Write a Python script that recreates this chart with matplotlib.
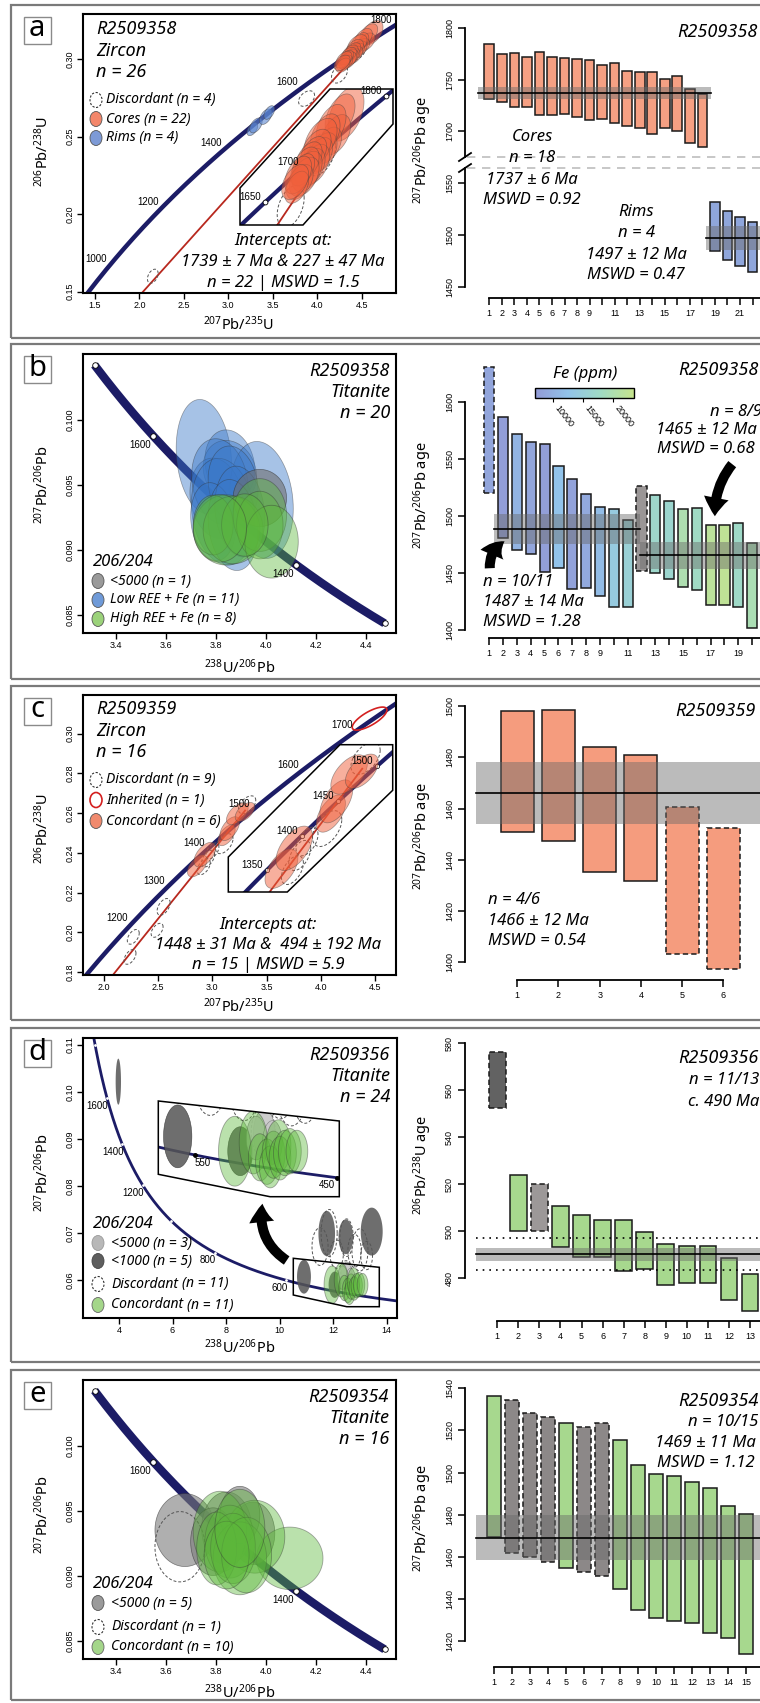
import numpy as np
import matplotlib
matplotlib.use("Agg")
import matplotlib.pyplot as plt
from matplotlib.patches import Polygon, Rectangle, Ellipse, FancyArrowPatch
from matplotlib.lines import Line2D
from matplotlib.colors import LinearSegmentedColormap, Normalize
from matplotlib.cm import ScalarMappable

plt.rcParams['font.family'] = ['Liberation Sans', 'DejaVu Sans']
plt.rcParams['mathtext.fontset'] = 'custom'
plt.rcParams['mathtext.rm'] = 'Noto Sans'
plt.rcParams['mathtext.it'] = 'Noto Sans:italic'
plt.rcParams['mathtext.bf'] = 'Noto Sans:bold'
ANN = ['Noto Sans', 'DejaVu Sans']

# decay constants (per Myr) and 238U/235U
L238, L235, U85 = 1.55125e-4, 9.8485e-4, 137.818

# ---------------- (a) R2509358 zircon ----------------
a_core_x = [4.62, 4.58, 4.55, 4.52, 4.50, 4.48, 4.46, 4.45, 4.44, 4.42, 4.41, 4.40, 4.38, 4.37, 4.36, 4.35, 4.34, 4.33, 4.31, 4.30, 4.29, 4.28]
a_core_y = [0.3170, 0.3165, 0.3110, 0.3135, 0.3080, 0.3110, 0.3060, 0.3095, 0.3050, 0.3070, 0.3025, 0.3055, 0.3015, 0.3040, 0.3005, 0.3025, 0.2990, 0.3010, 0.2975, 0.2995, 0.2960, 0.2975]
a_core_sx = [0.12, 0.10, 0.10, 0.10, 0.09, 0.10, 0.10, 0.11, 0.09, 0.10, 0.10, 0.09, 0.10, 0.09, 0.10, 0.09, 0.10, 0.08, 0.09, 0.09, 0.08, 0.09]
a_core_sy = [0.0078, 0.0062, 0.0058, 0.0062, 0.0052, 0.0060, 0.0056, 0.0062, 0.0052, 0.0056, 0.0058, 0.0050, 0.0056, 0.0050, 0.0058, 0.0050, 0.0056, 0.0046, 0.0050, 0.0054, 0.0046, 0.0050]
a_rim_x = [3.27, 3.31, 3.42, 3.46]
a_rim_y = [0.2548, 0.2572, 0.2628, 0.2655]
a_rim_sx = [0.06, 0.07, 0.07, 0.06]
a_rim_sy = [0.0042, 0.0048, 0.0050, 0.0044]
a_disc_x = [3.88, 4.25, 2.15, 4.45]
a_disc_y = [0.2745, 0.2905, 0.1600, 0.3055]
a_disc_sx = [0.09, 0.09, 0.06, 0.10]
a_disc_sy = [0.0050, 0.0060, 0.0045, 0.0062]
a_int = (227, 1739)
a_core_hi = [1785, 1775, 1776, 1772, 1777, 1772, 1771, 1770, 1769, 1764, 1766, 1758, 1757, 1757, 1751, 1754, 1741, 1736]
a_core_lo = [1731, 1728, 1723, 1723, 1716, 1716, 1717, 1714, 1711, 1712, 1708, 1705, 1703, 1697, 1703, 1700, 1688, 1684]
a_rim_hi = [1531, 1523, 1517, 1512]
a_rim_lo = [1484, 1476, 1470, 1464]
a_core_mean, a_core_err = 1737, 6
a_rim_mean, a_rim_err = 1497, 11.5

# ---------------- (b) R2509358 titanite ----------------
b_low_x = [3.752, 3.856, 3.856, 3.983, 3.803, 3.816, 3.829, 3.869, 3.789, 3.896, 3.869]
b_low_y = [0.09718, 0.09654, 0.09603, 0.09385, 0.09397, 0.09526, 0.09295, 0.0950, 0.09218, 0.09295, 0.09192]
b_low_sx = [0.111, 0.10, 0.107, 0.127, 0.107, 0.113, 0.127, 0.10, 0.09, 0.10, 0.10]
b_low_sy = [0.0044, 0.0027, 0.0024, 0.0045, 0.0031, 0.0033, 0.0041, 0.0030, 0.0030, 0.0035, 0.0035]
b_high_x = [3.843, 3.789, 3.869, 3.976, 3.976, 4.023, 3.916, 3.816]
b_high_y = [0.09154, 0.09192, 0.09154, 0.09269, 0.09192, 0.09064, 0.09192, 0.09167]
b_high_sx = [0.133, 0.08, 0.12, 0.107, 0.093, 0.107, 0.093, 0.107]
b_high_sy = [0.0027, 0.0023, 0.0026, 0.0028, 0.0026, 0.0028, 0.0024, 0.0026]
b_gray_x, b_gray_y, b_gray_sx, b_gray_sy = [3.976], [0.0940], [0.107], [0.0022]
b_hi = [1630, 1587, 1572, 1565, 1563, 1544, 1532, 1519, 1508, 1506, 1496, 1526, 1518, 1513, 1506, 1507, 1492, 1492, 1494, 1476]
b_lo = [1520, 1481, 1470, 1467, 1451, 1454, 1436, 1437, 1430, 1420, 1420, 1452, 1450, 1445, 1438, 1435, 1422, 1422, 1420, 1402]
b_fe = [8500, 7500, 10500, 8500, 7500, 12500, 8000, 9000, 11500, 14000, 15500, 0, 17000, 16500, 20000, 18000, 22000, 22500, 17500, 19500]
b_dashed = [1, 12]
b_gray = [12]
b_mean1, b_err1 = 1488.5, 13
b_mean2, b_err2 = 1465.5, 12

# ---------------- (c) R2509359 zircon ----------------
c_conc_x = [2.86, 2.93, 3.13, 3.16, 3.23, 3.30]
c_conc_y = [0.2334, 0.2391, 0.2488, 0.2522, 0.2597, 0.2606]
c_conc_sx = [0.09, 0.10, 0.08, 0.09, 0.10, 0.09]
c_conc_sy = [0.0055, 0.0062, 0.0052, 0.0060, 0.0055, 0.0048]
c_inh_x, c_inh_y, c_inh_sx, c_inh_sy = [4.45], [0.3076], [0.16], [0.0058]
c_disc_x = [3.32, 3.11, 2.96, 3.00, 2.92, 2.55, 2.49, 2.27, 2.24]
c_disc_y = [0.2642, 0.2446, 0.2371, 0.2410, 0.2330, 0.2128, 0.2010, 0.1977, 0.1876]
c_disc_sx = [0.08, 0.08, 0.06, 0.06, 0.06, 0.06, 0.055, 0.055, 0.055]
c_disc_sy = [0.0045, 0.0050, 0.0042, 0.0040, 0.0040, 0.0042, 0.0035, 0.0037, 0.0037]
c_int = (494, 1448)
c_hi = [1498.0, 1498.4, 1484.2, 1480.8, 1460.5, 1452.5]
c_lo = [1450.7, 1447.3, 1435.1, 1431.7, 1403.3, 1397.3]
c_dashed = [5, 6]
c_mean, c_err = 1466, 12.2

# ---------------- (d) R2509356 titanite ----------------
d_dark_x = [3.975, 10.91, 11.76, 12.47, 13.44, 12.06]
d_dark_y = [0.1022, 0.0607, 0.0699, 0.0692, 0.0703, 0.0590]
d_dark_sx = [0.10, 0.26, 0.31, 0.27, 0.41, 0.23]
d_dark_sy = [0.0049, 0.0036, 0.0048, 0.0037, 0.0051, 0.0028]
d_light_x = [12.50, 12.35, 12.65]
d_light_y = [0.0610, 0.0605, 0.0600]
d_light_sx = [0.20, 0.18, 0.18]
d_light_sy = [0.0028, 0.0025, 0.0025]
d_disc_x = [11.51, 13.00, 12.13, 13.25, 11.85, 12.50, 12.80, 12.48]
d_disc_y = [0.0671, 0.0664, 0.0655, 0.0652, 0.0700, 0.0690, 0.0662, 0.0612]
d_disc_sx = [0.30, 0.30, 0.25, 0.22, 0.30, 0.25, 0.25, 0.22]
d_disc_sy = [0.0040, 0.0045, 0.0030, 0.0030, 0.0050, 0.0040, 0.0035, 0.0029]
d_conc_x = [11.96, 12.30, 12.42, 12.55, 12.61, 12.67, 12.76, 12.79, 12.88, 12.97, 13.10]
d_conc_y = [0.0590, 0.0600, 0.0583, 0.0578, 0.0572, 0.0586, 0.0596, 0.0582, 0.0588, 0.0590, 0.0590]
d_conc_sx = [0.30, 0.26, 0.21, 0.21, 0.20, 0.21, 0.23, 0.20, 0.21, 0.21, 0.20]
d_conc_sy = [0.0040, 0.0036, 0.0027, 0.0026, 0.0024, 0.0027, 0.0030, 0.0025, 0.0026, 0.0026, 0.0024]
d_hi = [576.2, 524.0, 520.0, 510.9, 507.0, 505.0, 504.8, 499.9, 494.8, 493.9, 493.9, 488.8, 481.8]
d_lo = [552.3, 500.1, 500.1, 493.2, 488.9, 488.9, 483.1, 484.0, 477.2, 478.2, 478.2, 470.9, 466.1]
d_darkbar, d_lightbar = [1], [3]
d_mean, d_err, d_spread = 490.2, 2.7, 6.8

# ---------------- (e) R2509354 titanite ----------------
e_gray_x = [3.676, 3.949, 3.843, 3.789, 3.896]
e_gray_y = [0.09352, 0.09327, 0.09365, 0.09263, 0.09468]
e_gray_sx = [0.12, 0.087, 0.10, 0.09, 0.08]
e_gray_sy = [0.0028, 0.0024, 0.0028, 0.0026, 0.0022]
e_disc_x, e_disc_y, e_disc_sx, e_disc_sy = [3.656], [0.09224], [0.10], [0.0027]
e_conc_x = [4.096, 3.956, 3.816, 3.856, 3.896, 3.803, 3.869, 3.923, 3.843, 3.896]
e_conc_y = [0.09135, 0.09301, 0.0934, 0.09263, 0.09135, 0.09211, 0.09211, 0.0916, 0.0916, 0.09365]
e_conc_sx = [0.133, 0.12, 0.107, 0.10, 0.107, 0.08, 0.09, 0.10, 0.09, 0.10]
e_conc_sy = [0.0024, 0.0028, 0.0031, 0.0028, 0.0028, 0.0028, 0.0027, 0.0029, 0.0026, 0.0030]
e_hi = [1536.5, 1534.6, 1528.4, 1526.5, 1523.4, 1521.5, 1523.4, 1515.3, 1503.6, 1499.5, 1498.4, 1495.5, 1492.5, 1484.3, 1480.2]
e_lo = [1469.5, 1461.6, 1459.7, 1457.5, 1454.8, 1452.6, 1450.7, 1444.7, 1434.6, 1430.8, 1429.7, 1428.7, 1423.6, 1421.6, 1413.7]
e_graybar = [2, 3, 4, 6, 7]
e_mean, e_err = 1469, 10.7

NAVY = '#1c1c66'
RED = '#b8281e'
W, H = 760, 1703
fig = plt.figure(figsize=(W / 100, H / 100), dpi=100)
fig.patch.set_facecolor('white')


def P(x, y):
    return (x / W, 1 - y / H)


def box(x0, y0, x1, y1):
    return [x0 / W, 1 - y1 / H, (x1 - x0) / W, (y1 - y0) / H]


def cal(p0, v0, p1, v1, a, b):
    s = (v1 - v0) / (p1 - p0)
    return v0 + (a - p0) * s, v0 + (b - p0) * s


def ftext(x, y, s, **kw):
    kw.setdefault('family', ANN)
    return fig.text(x / W, 1 - y / H, s, **kw)


def weth(t):
    return np.exp(L235 * np.asarray(t, float)) - 1, np.exp(L238 * np.asarray(t, float)) - 1


def tw(t):
    r68 = np.exp(L238 * np.asarray(t, float)) - 1
    return 1 / r68, (np.exp(L235 * np.asarray(t, float)) - 1) / r68 / U85


def ellipses(ax, xs, ys, sxs, sys_, rho, **kw):
    th = np.linspace(0, 2 * np.pi, 90)
    for x, y, a, b in zip(xs, ys, sxs, sys_):
        pts = np.column_stack([x + a * np.cos(th),
                               y + b * (rho * np.cos(th) + np.sqrt(1 - rho ** 2) * np.sin(th))])
        ax.add_patch(Polygon(pts, closed=True, **kw))


def conc_axes(rect, xcal, ycal, xt, yt, fx, fy):
    x0, y0, x1, y1 = rect
    ax = fig.add_axes(box(x0, y0, x1, y1))
    ax.set_xticks(xt)
    ax.set_xticklabels([fx % v for v in xt])
    ax.set_yticks(yt)
    ax.set_yticklabels([fy % v for v in yt], rotation=90, va='center')
    ax.set_xlim(cal(*xcal, x0, x1))
    ax.set_ylim(cal(*ycal, y1, y0))
    ax.tick_params(direction='out', length=4, width=1, labelsize=6.5, pad=2)
    for s in ax.spines.values():
        s.set_linewidth(1.5)
    return ax


def bar_axes(rect, xcal, ycal, ybounds, yt, nmax, labels):
    x0, y0, x1, y1 = rect
    ax = fig.add_axes(box(x0, y0, x1, y1))
    ax.patch.set_alpha(0)
    for s in ('top', 'right'):
        ax.spines[s].set_visible(False)
    ax.spines['left'].set_linewidth(1.3)
    ax.spines['bottom'].set_linewidth(1.3)
    ax.spines['left'].set_bounds(*ybounds)
    ax.spines['bottom'].set_bounds(1, nmax)
    ticks = np.arange(1, nmax + 1)
    ax.set_xticks(ticks)
    ax.set_xticklabels([labels(i) for i in ticks])
    ax.set_yticks(yt)
    ax.set_xlim(cal(*xcal, x0, x1))
    ax.set_ylim(cal(*ycal, y1, y0))
    ax.tick_params(direction='out', length=5, width=1.1, labelsize=6.5, pad=3)
    ax.tick_params(axis='y', labelrotation=90)
    for lab in ax.get_yticklabels():
        lab.set_va('center')
    return ax


def draw_bars(ax, lo, hi, colors, dashed, width, pos0=1):
    lo, hi = np.asarray(lo, float), np.asarray(hi, float)
    pos = np.arange(pos0, pos0 + len(lo))
    dmask = np.isin(pos, dashed)
    colors = np.array(colors)
    for ls, m in (('-', ~dmask), ((0, (3.5, 2)), dmask)):
        if m.any():
            ax.bar(pos[m], (hi - lo)[m], bottom=lo[m], width=width, color=colors[m],
                   edgecolor='#1a1a1a', linewidth=1.1, linestyle=ls, zorder=2)


def wmean(ax, m, err, x0, x1):
    ax.fill_between([x0, x1], m - err, m + err, color='#6a6a6a', alpha=0.45, lw=0, zorder=3)
    ax.plot([x0, x1], [m, m], color='black', lw=1.2, zorder=4)


def make_inset(poly, xcal, ycal):
    xs = [p[0] for p in poly]
    ys = [p[1] for p in poly]
    x0, x1, y0, y1 = min(xs), max(xs), min(ys), max(ys)
    ax = fig.add_axes(box(x0, y0, x1, y1))
    ax.set_xlim(cal(*xcal, x0, x1))
    ax.set_ylim(cal(*ycal, y1, y0))
    ax.axis('off')
    verts = [P(x, y) for x, y in poly]
    bg = Polygon(verts, closed=True, transform=fig.transFigure, facecolor='white', edgecolor='none', zorder=0)
    ax.add_patch(bg)
    fig.add_artist(Polygon(verts, closed=True, transform=fig.transFigure, facecolor='none',
                           edgecolor='black', lw=1.1, zorder=5))
    return ax, bg


def clip_to(ax, bg):
    for art in list(ax.patches) + list(ax.lines) + list(ax.texts):
        if art is not bg:
            art.set_clip_path(bg)


def swatch(x, y, fc, ec='#555555', ls='-', lw=0.6, w=12, h=15):
    fig.add_artist(Ellipse(P(x, y), w / W, h / H, transform=fig.transFigure, facecolor=fc,
                           edgecolor=ec, linestyle=ls, lw=lw))


def two_part(x, y, bold, rest, size):
    t = ftext(x, y, bold, fontsize=size, fontweight='bold', style='italic', va='center')
    bb = t.get_window_extent(renderer=fig.canvas.get_renderer())
    fig.text(bb.x1 / W + 4 / W, 1 - y / H, rest, fontsize=size, style='italic', family=ANN, va='center')


def arrow(p0, p1, rad, scale=11):
    fig.add_artist(FancyArrowPatch(P(*p0), P(*p1), transform=fig.transFigure,
                                   arrowstyle='simple,head_width=1.5,head_length=1.1,tail_width=0.6',
                                   mutation_scale=scale, connectionstyle='arc3,rad=%s' % rad,
                                   color='black', lw=0))


def conc_labels(ax, fn, ages, dx, dy, ha, va, size=7):
    for t in ages:
        x, y = fn(t)
        ax.annotate(str(t), (x, y), xytext=(dx, dy), textcoords='offset points',
                    ha=ha, va=va, fontsize=size)


# panel frames and letters
panel_top = [5, 344, 686, 1028, 1370]
panel_bot = [338, 679, 1020, 1362, 1700]
for t, b, l in zip(panel_top, panel_bot, 'abcde'):
    fig.add_artist(Rectangle(P(11, b), (800 - 11) / W, (b - t) / H, transform=fig.transFigure,
                             fill=False, ec='#7a7a7a', lw=1.6))
    fig.add_artist(Rectangle(P(23.5, t + 39), 27.5 / W, 27.5 / H, transform=fig.transFigure,
                             fill=False, ec='#8a8a8a', lw=1.0))
    ftext(37.2, t + 24, l, fontsize=21, ha='center', va='center')

CORE_KW = dict(facecolor='#f0603c', alpha=0.5, edgecolor='#444444', lw=0.5)
DISC_KW = dict(facecolor='none', edgecolor='#555555', lw=0.7, linestyle=(0, (3, 2)))
GREEN_KW = dict(facecolor='#5cb83a', alpha=0.42, edgecolor='#333333', lw=0.6)

# ======================= (a) left =======================
ax = conc_axes((83, 14, 396, 293), (95, 1.5, 361.7, 4.5), (59, 0.30, 291.7, 0.15),
               [1.5, 2.0, 2.5, 3.0, 3.5, 4.0, 4.5], [0.15, 0.20, 0.25, 0.30], '%.1f', '%.2f')
tc = np.linspace(900, 1900, 300)
ax.plot(*weth(tc), color=NAVY, lw=3.2, zorder=0.8)
lo_pt, up_pt = np.array(weth(a_int[0])), np.array(weth(a_int[1]))
ax.plot([lo_pt[0], up_pt[0]], [lo_pt[1], up_pt[1]], color=RED, lw=1.3, zorder=0.8)
conc_labels(ax, weth, [1000, 1200, 1400, 1600, 1800], -3, 0, 'right', 'bottom')
ellipses(ax, a_disc_x, a_disc_y, a_disc_sx, a_disc_sy, 0.4, **DISC_KW)
ellipses(ax, a_rim_x, a_rim_y, a_rim_sx, a_rim_sy, 0.5, facecolor='#5b86d0', alpha=0.6, edgecolor='#444', lw=0.5)
ellipses(ax, a_core_x, a_core_y, a_core_sx, a_core_sy, 0.45, **CORE_KW)
x1650, y1650 = weth(1650)
x1800, y1800 = weth(1800)
ins, bg = make_inset([(240, 225), (240, 188), (330, 89), (393, 89), (393, 124), (303, 225)],
                     (265, x1650, 386, x1800), (202.3, y1650, 96, y1800))
ins.plot(*weth(tc), color=NAVY, lw=3, zorder=0.8)
ins.plot([lo_pt[0], up_pt[0]], [lo_pt[1], up_pt[1]], color=RED, lw=1.3, zorder=0.8)
ellipses(ins, a_disc_x, a_disc_y, a_disc_sx, a_disc_sy, 0.4, **DISC_KW)
ellipses(ins, a_core_x, a_core_y, a_core_sx, a_core_sy, 0.45, **CORE_KW)
ins.plot(*weth([1650, 1800]), 'o', ms=3.5, mfc='white', mec='black', mew=0.6, zorder=6)
conc_labels(ins, weth, [1650, 1700, 1800], -3, 0, 'right', 'bottom')
clip_to(ins, bg)

for i, s in enumerate(['R2509358', 'Zircon', 'n = 26']):
    ftext(96, 29 + 21.5 * i, s, fontsize=13, fontweight='bold', style='italic', va='center')
swatch(96, 100, 'none', ls=(0, (2, 1.5)), ec='#333333', lw=0.8)
swatch(96, 119, '#f3866a')
swatch(96, 138, '#7d9ad6')
for yy, s in zip([100, 119, 138], ['Discordant (n = 4)', 'Cores (n = 22)', 'Rims (n = 4)']):
    ftext(106, yy, s, fontsize=10, style='italic', va='center')
for yy, s in zip([241, 262, 283], ['Intercepts at:', '1739 ± 7 Ma & 227 ± 47 Ma', 'n = 22 | MSWD = 1.5']):
    ftext(283, yy, s, fontsize=12, style='italic', ha='center', va='center')
ftext(238, 325, '$^{207}$Pb/$^{235}$U', fontsize=10.5, ha='center', va='center')
ftext(43, 152, '$^{206}$Pb/$^{238}$U', fontsize=10.5, ha='center', va='center', rotation=90)

# ======================= (a) right =======================
odd_lab = lambda i: str(i) if (i < 10 or i % 2 == 1) else ''
axu = bar_axes((465, 20, 900, 157), (489.3, 1, 740, 21), (28.3, 1800, 131, 1700), (1675, 1800),
               [1700, 1750, 1800], 34, odd_lab)
axu.spines['bottom'].set_visible(False)
axu.tick_params(axis='x', bottom=False, labelbottom=False)
axl = bar_axes((465, 168, 900, 297.7), (489.3, 1, 740, 21), (182.7, 1550, 286.7, 1450), (1450, 1564),
               [1450, 1500, 1550], 34, odd_lab)
draw_bars(axu, a_core_lo, a_core_hi, ['#f5a083'] * len(a_core_lo), [], 0.77)
wmean(axu, a_core_mean, a_core_err, 0.1, 18.7)
draw_bars(axl, a_rim_lo, a_rim_hi, ['#8fa6db'] * len(a_rim_lo), [], 0.77, pos0=len(a_core_lo) + 1)
wmean(axl, a_rim_mean, a_rim_err, 18.3, 40)
for yy in (157, 168):
    fig.add_artist(Line2D([467 / W, 1], [1 - yy / H] * 2, transform=fig.transFigure, color='#bdbdbd',
                          lw=1.2, linestyle=(0, (5, 4))))
    fig.add_artist(Line2D([459 / W, 471 / W], [1 - (yy + 4) / H, 1 - (yy - 4) / H], transform=fig.transFigure,
                          color='black', lw=1.3))
ftext(677, 32, 'R2509358', fontsize=13, fontweight='bold', style='italic', va='center')
ftext(532, 137, 'Cores', fontsize=12, fontweight='bold', style='italic', ha='center', va='center')
for yy, s in zip([158, 180, 200], ['n = 18', '1737 ± 6 Ma', 'MSWD = 0.92']):
    ftext(532, yy, s, fontsize=12, style='italic', ha='center', va='center')
ftext(636, 212, 'Rims', fontsize=12, fontweight='bold', style='italic', ha='center', va='center')
for yy, s in zip([233, 255, 275], ['n = 4', '1497 ± 12 Ma', 'MSWD = 0.47']):
    ftext(636, yy, s, fontsize=12, style='italic', ha='center', va='center')
ftext(423, 150, '$^{207}$Pb/$^{206}$Pb age', fontsize=10.5, ha='center', va='center', rotation=90)

# ======================= (b) left =======================
ax = conc_axes((83, 354, 396, 633), (116, 3.4, 365.7, 4.4), (420, 0.100, 615, 0.085),
               [3.4, 3.6, 3.8, 4.0, 4.2, 4.4], [0.085, 0.090, 0.095, 0.100], '%.1f', '%.3f')
tt = np.linspace(1300, 1700, 200)
ax.plot(*tw(tt), color=NAVY, lw=6, solid_capstyle='butt', zorder=0.7)
ax.plot(*tw([1300, 1400, 1500, 1600, 1700]), 'o', ms=4, mfc='white', mec='black', mew=0.6, zorder=0.8)
conc_labels(ax, tw, [1600, 1400], -2, -3, 'right', 'top')
ellipses(ax, b_low_x, b_low_y, b_low_sx, b_low_sy, -0.15, facecolor='#3a78c8', alpha=0.45, edgecolor='#333', lw=0.5)
ellipses(ax, b_gray_x, b_gray_y, b_gray_sx, b_gray_sy, 0.0, facecolor='#6e6e6e', alpha=0.6, edgecolor='#333', lw=0.5)
ellipses(ax, b_high_x, b_high_y, b_high_sx, b_high_sy, 0.0, **GREEN_KW)
for i, s in enumerate(['R2509358', 'Titanite', 'n = 20']):
    ftext(390, 371 + 21 * i, s, fontsize=13, fontweight='bold', style='italic', ha='right', va='center')
ftext(93, 562, '206/204', fontsize=12, fontweight='bold', style='italic', va='center')
swatch(98, 581, '#9a9a9a')
swatch(98, 600, '#6f9ad8')
swatch(98, 619, '#9bd27a')
for yy, s in zip([581, 600, 619], ['<5000 (n = 1)', 'Low REE + Fe (n = 11)', 'High REE + Fe (n = 8)']):
    ftext(110, yy, s, fontsize=10, style='italic', va='center')
ftext(240, 668, '$^{238}$U/$^{206}$Pb', fontsize=10.5, ha='center', va='center')
ftext(43, 485, '$^{207}$Pb/$^{206}$Pb', fontsize=10.5, ha='center', va='center', rotation=90)

# ======================= (b) right =======================
fe_cmap = LinearSegmentedColormap.from_list('fe', ['#929ad6', '#92c3ea', '#a0dbc4', '#c6e48c'])
fe_norm = Normalize(6950, 23500)
axb = bar_axes((465, 360, 900, 638.3), (489.3, 1, 738.3, 19), (401.7, 1600, 630, 1400), (1400, 1600),
               [1400, 1450, 1500, 1550, 1600], 34, odd_lab)
b_cols = ['#9a9696' if i + 1 in b_gray else matplotlib.colors.to_hex(fe_cmap(fe_norm(v))) for i, v in enumerate(b_fe)]
draw_bars(axb, b_lo, b_hi, b_cols, b_dashed, 0.74)
wmean(axb, b_mean1, b_err1, 1.35, 11.9)
wmean(axb, b_mean2, b_err2, 11.9, 40)
cax = fig.add_axes(box(535, 388, 634, 398))
cb = fig.colorbar(ScalarMappable(norm=fe_norm, cmap=fe_cmap), cax=cax, orientation='horizontal')
cb.set_ticks([10000, 15000, 20000])
cb.outline.set_linewidth(1.0)
cax.tick_params(length=3, width=0.8, labelsize=6.5, pad=1)
for lab in cax.get_xticklabels():
    lab.set_rotation(-52)
    lab.set_ha('left')
    lab.set_va('top')
ftext(585, 374, 'Fe (ppm)', fontsize=12, style='italic', ha='center', va='center')
ftext(678, 370, 'R2509358', fontsize=13, fontweight='bold', style='italic', va='center')
for yy, xx, s in zip([412, 430, 449], [710, 656, 657], ['n = 8/9', '1465 ± 12 Ma', 'MSWD = 0.68']):
    ftext(xx, yy, s, fontsize=12, style='italic', va='center')
for yy, s in zip([582, 602, 622], ['n = 10/11', '1487 ± 14 Ma', 'MSWD = 1.28']):
    ftext(483, yy, s, fontsize=12, style='italic', va='center')
arrow((490, 571), (507, 540), -0.35, 12)
arrow((734, 462), (715, 519), 0.2, 12)
ftext(423, 495, '$^{207}$Pb/$^{206}$Pb age', fontsize=10.5, ha='center', va='center', rotation=90)

# ======================= (c) left =======================
ax = conc_axes((83, 695, 396, 975), (104, 2.0, 375, 4.5), (733.7, 0.30, 972, 0.18),
               [2.0, 2.5, 3.0, 3.5, 4.0, 4.5], [0.18, 0.20, 0.22, 0.24, 0.26, 0.28, 0.30], '%.1f', '%.2f')
tc = np.linspace(1000, 1900, 300)
ax.plot(*weth(tc), color=NAVY, lw=3.2, zorder=0.8)
lo_pt, up_pt = np.array(weth(c_int[0])), np.array(weth(c_int[1]))
ext_pt = lo_pt + 1.055 * (up_pt - lo_pt)
ax.plot([lo_pt[0], ext_pt[0]], [lo_pt[1], ext_pt[1]], color=RED, lw=1.3, zorder=0.8)
conc_labels(ax, weth, [1200, 1300, 1400, 1500, 1600, 1700], -3, 0, 'right', 'bottom')
ellipses(ax, c_disc_x, c_disc_y, c_disc_sx, c_disc_sy, 0.5, **DISC_KW)
ellipses(ax, c_conc_x, c_conc_y, c_conc_sx, c_conc_sy, 0.55, **CORE_KW)
ellipses(ax, c_inh_x, c_inh_y, c_inh_sx, c_inh_sy, 0.75, facecolor='none', edgecolor='#d42020', lw=1.2)
x1350, y1350 = weth(1350)
x1500, y1500 = weth(1500)
ins, bg = make_inset([(228.3, 892), (228.3, 857), (340, 744.7), (392.7, 744.7), (392.7, 790.3), (287.3, 892)],
                     (266.7, x1350, 376.7, x1500), (870.3, y1350, 766.3, y1500))
ins.plot(*weth(tc), color=NAVY, lw=3, zorder=0.8)
ins.plot([lo_pt[0], ext_pt[0]], [lo_pt[1], ext_pt[1]], color=RED, lw=1.3, zorder=0.8)
ellipses(ins, c_disc_x, c_disc_y, c_disc_sx, c_disc_sy, 0.5, **DISC_KW)
ellipses(ins, c_conc_x, c_conc_y, c_conc_sx, c_conc_sy, 0.55, **CORE_KW)
ins.plot(*weth([1350, 1400, 1450, 1500]), 'o', ms=3, mfc='white', mec='black', mew=0.5, zorder=0.9)
conc_labels(ins, weth, [1350, 1400, 1450, 1500], -3, 0, 'right', 'bottom')
clip_to(ins, bg)
for i, s in enumerate(['R2509359', 'Zircon', 'n = 16']):
    ftext(96, 709 + 21.5 * i, s, fontsize=13, fontweight='bold', style='italic', va='center')
swatch(96, 780, 'none', ls=(0, (2, 1.5)), ec='#333333', lw=0.8)
swatch(96, 800, 'none', ec='#d42020', lw=1.2)
swatch(96, 821, '#f08a6e')
for yy, s in zip([780, 800, 821], ['Discordant (n = 9)', 'Inherited (n = 1)', 'Concordant (n = 6)']):
    ftext(106, yy, s, fontsize=10, style='italic', va='center')
for yy, s in zip([925, 945, 965], ['Intercepts at:', '1448 ± 31 Ma &  494 ± 192 Ma', 'n = 15 | MSWD = 5.9']):
    ftext(268, yy, s, fontsize=12, style='italic', ha='center', va='center')
ftext(238, 1007, '$^{207}$Pb/$^{235}$U', fontsize=10.5, ha='center', va='center')
ftext(43, 829, '$^{206}$Pb/$^{238}$U', fontsize=10.5, ha='center', va='center', rotation=90)

# ======================= (c) right =======================
axc = bar_axes((465, 695, 900, 980.3), (517.3, 1, 723.3, 6), (706.3, 1500, 962, 1400), (1400, 1500),
               [1400, 1420, 1440, 1460, 1480, 1500], 6, str)
draw_bars(axc, c_lo, c_hi, ['#f59c7e'] * len(c_lo), c_dashed, 0.8)
wmean(axc, c_mean, c_err, 0.0, 40)
ftext(675, 711, 'R2509359', fontsize=13, fontweight='bold', style='italic', va='center')
for yy, s in zip([900, 921, 941], ['n = 4/6', '1466 ± 12 Ma', 'MSWD = 0.54']):
    ftext(488, yy, s, fontsize=12, style='italic', va='center')
ftext(423, 836, '$^{207}$Pb/$^{206}$Pb age', fontsize=10.5, ha='center', va='center', rotation=90)

# ======================= (d) left =======================
ax = conc_axes((83, 1037.7, 396.7, 1317.7), (119, 4, 386.7, 14), (1045, 0.11, 1280, 0.06),
               [4, 6, 8, 10, 12, 14], [0.06, 0.07, 0.08, 0.09, 0.10, 0.11], '%d', '%.2f')
td = np.linspace(380, 1850, 400)
ax.plot(*tw(td), color=NAVY, lw=2, zorder=0.7)
ax.plot(*tw([1800, 1600, 1400, 1200, 1000, 800, 600]), 'o', ms=2, mfc='white', mec='none', zorder=0.8)
conc_labels(ax, tw, [1600, 1400, 1200, 800, 600], 1, -2, 'right', 'top')
ellipses(ax, d_disc_x, d_disc_y, d_disc_sx, d_disc_sy, 0.0, **DISC_KW)
ellipses(ax, d_dark_x, d_dark_y, d_dark_sx, d_dark_sy, 0.0, facecolor='#555555', alpha=0.85, edgecolor='none')
ellipses(ax, d_light_x, d_light_y, d_light_sx, d_light_sy, 0.0, facecolor='#c8c8c8', alpha=0.9, edgecolor='#777', lw=0.4)
ellipses(ax, d_conc_x, d_conc_y, d_conc_sx, d_conc_sy, 0.0, **GREEN_KW)
fig.add_artist(Polygon([P(293.3, 1258.3), P(379.3, 1267.3), P(379.3, 1306.7), P(346.7, 1306.7), P(293.3, 1295)],
                       closed=True, transform=fig.transFigure, fill=False, edgecolor='black', lw=1.1))
x550, y550 = tw(550)
x450, y450 = tw(450)
ins, bg = make_inset([(158.3, 1101), (339.3, 1121), (339.3, 1196.7), (270, 1196.7), (158.3, 1174.3)],
                     (195, x550, 336.7, x450), (1155, y550, 1177.7, y450))
ins.plot(*tw(td), color=NAVY, lw=2, zorder=0.7)
ins.plot(*tw([550, 450]), 'o', ms=2.5, mfc='black', mec='black', zorder=0.8)
ellipses(ins, d_disc_x, d_disc_y, d_disc_sx, d_disc_sy, 0.0, **DISC_KW)
ellipses(ins, d_dark_x, d_dark_y, d_dark_sx, d_dark_sy, 0.0, facecolor='#555555', alpha=0.85, edgecolor='#333', lw=0.4)
ellipses(ins, d_light_x, d_light_y, d_light_sx, d_light_sy, 0.0, facecolor='#c8c8c8', alpha=0.9, edgecolor='#777', lw=0.4)
ellipses(ins, d_conc_x, d_conc_y, d_conc_sx, d_conc_sy, 0.0, **GREEN_KW)
conc_labels(ins, tw, [550], 0, -2, 'left', 'top')
conc_labels(ins, tw, [450], -1, -2, 'right', 'top')
clip_to(ins, bg)
for i, s in enumerate(['R2509356', 'Titanite', 'n = 24']):
    ftext(390, 1055 + 21 * i, s, fontsize=13, fontweight='bold', style='italic', ha='right', va='center')
ftext(93, 1224, '206/204', fontsize=12, fontweight='bold', style='italic', va='center')
swatch(98, 1243, '#b8b8b8', ec='#999999')
swatch(98, 1261, '#5e5e5e', ec='#444444')
swatch(98, 1284, 'none', ls=(0, (2, 1.5)), ec='#333333', lw=0.8)
swatch(98, 1305, '#a4d68a', ec='#666666')
ftext(111, 1243, '<5000 (n = 3)', fontsize=10, style='italic', va='center')
ftext(111, 1261, '<1000 (n = 5)', fontsize=10, style='italic', va='center')
two_part(111, 1284, 'Discordant', '(n = 11)', 10)
two_part(111, 1305, 'Concordant', '(n = 11)', 10)
arrow((289, 1262), (263, 1201), -0.35, 12)
ftext(240, 1348, '$^{238}$U/$^{206}$Pb', fontsize=10.5, ha='center', va='center')
ftext(43, 1173, '$^{207}$Pb/$^{206}$Pb', fontsize=10.5, ha='center', va='center', rotation=90)

# ======================= (d) right =======================
all_lab = lambda i: str(i)
axd = bar_axes((465, 1035, 900, 1321), (497.3, 1, 750, 13), (1043.3, 580, 1278.3, 480), (480, 580),
               [480, 500, 520, 540, 560, 580], 20, all_lab)
d_cols = ['#626262' if i + 1 in d_darkbar else '#9c9898' if i + 1 in d_lightbar else '#a7d88e' for i in range(len(d_lo))]
draw_bars(axd, d_lo, d_hi, d_cols, d_darkbar + d_lightbar, 0.79)
wmean(axd, d_mean, d_err, 0.0, 40)
for v in (d_mean - d_spread, d_mean + d_spread):
    axd.plot([0.0, 40], [v, v], color='black', lw=1.2, linestyle=(0, (1, 3)), zorder=4)
ftext(678, 1058, 'R2509356', fontsize=13, fontweight='bold', style='italic', va='center')
ftext(689, 1080, 'n = 11/13', fontsize=12, style='italic', va='center')
ftext(688, 1101.7, 'c. 490 Ma', fontsize=12, style='italic', va='center')
ftext(423, 1165, '$^{206}$Pb/$^{238}$U age', fontsize=10.5, ha='center', va='center', rotation=90)

# ======================= (e) left =======================
ax = conc_axes((83, 1380, 396, 1659), (116, 3.4, 365.7, 4.4), (1445.7, 0.100, 1641, 0.085),
               [3.4, 3.6, 3.8, 4.0, 4.2, 4.4], [0.085, 0.090, 0.095, 0.100], '%.1f', '%.3f')
ax.plot(*tw(tt), color=NAVY, lw=6, solid_capstyle='butt', zorder=0.7)
ax.plot(*tw([1300, 1400, 1500, 1600, 1700]), 'o', ms=4, mfc='white', mec='black', mew=0.6, zorder=0.8)
conc_labels(ax, tw, [1600, 1400], -2, -3, 'right', 'top')
ellipses(ax, e_gray_x, e_gray_y, e_gray_sx, e_gray_sy, 0.0, facecolor='#7a7a7a', alpha=0.6, edgecolor='#333', lw=0.5)
ellipses(ax, e_disc_x, e_disc_y, e_disc_sx, e_disc_sy, 0.0, **DISC_KW)
ellipses(ax, e_conc_x, e_conc_y, e_conc_sx, e_conc_sy, 0.0, **GREEN_KW)
for i, s in enumerate(['R2509354', 'Titanite', 'n = 16']):
    ftext(389, 1397 + 21 * i, s, fontsize=13, fontweight='bold', style='italic', ha='right', va='center')
ftext(93, 1584, '206/204', fontsize=12, fontweight='bold', style='italic', va='center')
swatch(98, 1603, '#9a9a9a')
swatch(98, 1627, 'none', ls=(0, (2, 1.5)), ec='#333333', lw=0.8)
swatch(98, 1647, '#a4d68a', ec='#666666')
ftext(111, 1603, '<5000 (n = 5)', fontsize=10, style='italic', va='center')
two_part(111, 1627, 'Discordant', '(n = 1)', 10)
two_part(111, 1647, 'Concordant', '(n = 10)', 10)
ftext(240, 1693, '$^{238}$U/$^{206}$Pb', fontsize=10.5, ha='center', va='center')
ftext(43, 1515, '$^{207}$Pb/$^{206}$Pb', fontsize=10.5, ha='center', va='center', rotation=90)

# ======================= (e) right =======================
axe = bar_axes((465, 1378, 900, 1666.7), (494, 1, 746, 15), (1388.3, 1540, 1641, 1420), (1420, 1540),
               [1420, 1440, 1460, 1480, 1500, 1520, 1540], 22, all_lab)
e_cols = ['#8c8888' if i + 1 in e_graybar else '#a7d88e' for i in range(len(e_lo))]
draw_bars(axe, e_lo, e_hi, e_cols, e_graybar, 0.82)
wmean(axe, e_mean, e_err, 0.0, 40)
ftext(678, 1400.7, 'R2509354', fontsize=13, fontweight='bold', style='italic', va='center')
for yy, xx, s in zip([1421.7, 1442.7, 1463.3], [688, 655, 657], ['n = 10/15', '1469 ± 11 Ma', 'MSWD = 1.12']):
    ftext(xx, yy, s, fontsize=12, style='italic', va='center')
ftext(423, 1518, '$^{207}$Pb/$^{206}$Pb age', fontsize=10.5, ha='center', va='center', rotation=90)

fig.savefig('out.png', dpi=100, facecolor='white')
